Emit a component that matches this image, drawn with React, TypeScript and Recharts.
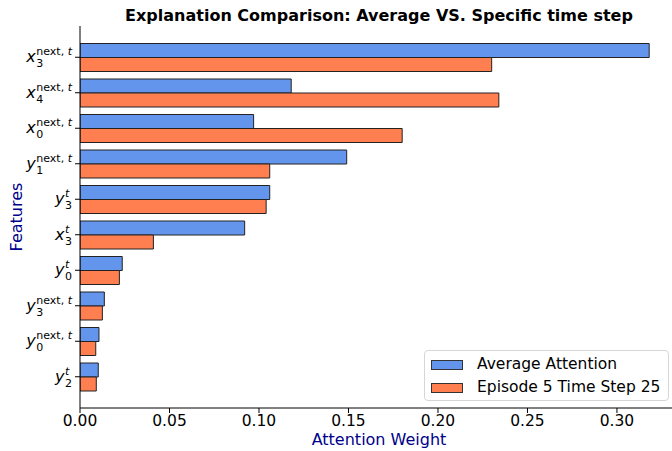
import { Bar, BarChart, XAxis, YAxis } from 'recharts';

// feature label parts: variable, subscript index, superscript
const featureVar = ['x', 'x', 'x', 'y', 'y', 'x', 'y', 'y', 'y', 'y'];
const featureSub = ['3', '4', '0', '1', '3', '3', '0', '3', '0', '2'];
const featureSup = ['next, t', 'next, t', 'next, t', 'next, t', 't', 't', 't', 'next, t', 'next, t', 't'];

const averageAttention = [0.318, 0.118, 0.097, 0.149, 0.106, 0.092, 0.0236, 0.0136, 0.0106, 0.0102];
const episodeAttention = [0.230, 0.234, 0.180, 0.106, 0.104, 0.041, 0.022, 0.0125, 0.0088, 0.0091];

const xTicks = [0, 0.05, 0.1, 0.15, 0.2, 0.25, 0.3];

const BLUE = '#6495ED';
const ORANGE = '#FF7F50';
const FONT = '"DejaVu Sans", sans-serif';

const data = featureVar.map((v, i) => ({
  feature: `${v}_${featureSub[i]}^${featureSup[i]}`,
  avg: averageAttention[i],
  episode: episodeAttention[i],
}));

let measureCtx: CanvasRenderingContext2D | null = null;
function measure(text: string, font: string) {
  if (!measureCtx) measureCtx = document.createElement('canvas').getContext('2d');
  if (!measureCtx) return text.length * 7;
  measureCtx.font = font;
  return measureCtx.measureText(text).width;
}

function FeatureTick(props: any) {
  const { x, y, payload } = props;
  const i = data.findIndex((d) => d.feature === payload.value);
  if (i < 0) return null;
  const base = featureVar[i];
  const sub = featureSub[i];
  const sup = featureSup[i];
  const supParts = sup.endsWith('t') ? [sup.slice(0, -1), 't'] : [sup, ''];
  const supW =
    measure(supParts[0], `11px ${FONT}`) + measure(supParts[1], `italic 11px ${FONT}`);
  const subW = measure(sub, `11px ${FONT}`);
  const scriptW = Math.max(supW, subW);
  const baseW = measure(base, `italic 16px ${FONT}`);
  const scriptX = x - scriptW;
  const baseX = scriptX - baseW - 0.5;
  return (
    <g fill="#000" fontFamily={FONT}>
      <text x={baseX} y={y + 5} fontSize={16} fontStyle="italic">
        {base}
      </text>
      <text x={scriptX} y={y - 2} fontSize={11}>
        {supParts[0]}
        <tspan fontStyle="italic">{supParts[1]}</tspan>
      </text>
      <text x={scriptX} y={y + 10} fontSize={11}>
        {sub}
      </text>
    </g>
  );
}

function LegendBox() {
  const items = [
    { label: 'Average Attention', color: BLUE },
    { label: 'Episode 5 Time Step 25', color: ORANGE },
  ];
  return (
    <div
      style={{
        position: 'absolute',
        left: 424,
        top: 350,
        width: 245,
        height: 51,
        boxSizing: 'border-box',
        border: '1px solid #d6d6d6',
        borderRadius: 4,
        background: 'rgba(255,255,255,0.8)',
        padding: '4px 0 0 6px',
        fontFamily: FONT,
        fontSize: 15.5,
        lineHeight: '19px',
        color: '#000',
      }}
    >
      {items.map((it) => (
        <div key={it.label} style={{ display: 'flex', alignItems: 'center', height: 19, marginBottom: 4 }}>
          <span
            style={{
              display: 'inline-block',
              width: 32,
              height: 10,
              background: it.color,
              border: '1px solid #333',
              boxSizing: 'border-box',
              marginRight: 14,
            }}
          />
          <span>{it.label}</span>
        </div>
      ))}
    </div>
  );
}

export default function App() {
  return (
    <div
      style={{
        position: 'absolute',
        left: 0,
        top: 0,
        width: 672,
        height: 451,
        overflow: 'hidden',
        background: '#fff',
      }}
    >
      <BarChart
        width={700}
        height={451}
        data={data}
        layout="vertical"
        margin={{ top: 26, right: 22, left: 0, bottom: 0 }}
        barGap={0}
        barSize={14}
      >
        <text
          x={379}
          y={21}
          textAnchor="middle"
          fontFamily={FONT}
          fontWeight="bold"
          fontSize={16}
          fill="#000"
        >
          Explanation Comparison: Average VS. Specific time step
        </text>
        <text
          x={379}
          y={445}
          textAnchor="middle"
          fontFamily={FONT}
          fontSize={16}
          fill="#00008B"
        >
          Attention Weight
        </text>
        <text
          x={22}
          y={217}
          textAnchor="middle"
          fontFamily={FONT}
          fontSize={16}
          fill="#00008B"
          transform="rotate(-90 22 217)"
        >
          Features
        </text>
        <XAxis
          type="number"
          domain={[0, 0.3341]}
          ticks={xTicks}
          tickFormatter={(v: number) => v.toFixed(2)}
          height={43}
          tickSize={5}
          tickMargin={2}
          axisLine={{ stroke: '#000' }}
          tickLine={{ stroke: '#000' }}
          tick={{ fill: '#000', fontSize: 15.5, fontFamily: FONT }}
          allowDataOverflow
        />
        <XAxis
          xAxisId="top"
          orientation="top"
          type="number"
          domain={[0, 0.3341]}
          height={0}
          tick={false}
          tickLine={false}
          axisLine={{ stroke: '#000' }}
        />
        <YAxis
          type="category"
          dataKey="feature"
          width={80}
          padding={{ top: 13.5, bottom: 13.5 }}
          tickSize={5}
          tickMargin={3}
          interval={0}
          axisLine={{ stroke: '#000' }}
          tickLine={{ stroke: '#000' }}
          tick={<FeatureTick />}
        />
        <Bar
          dataKey="avg"
          name="Average Attention"
          fill={BLUE}
          stroke="#222"
          strokeWidth={1}
          isAnimationActive={false}
        />
        <Bar
          dataKey="episode"
          name="Episode 5 Time Step 25"
          fill={ORANGE}
          stroke="#222"
          strokeWidth={1}
          isAnimationActive={false}
        />
      </BarChart>
      <LegendBox />
    </div>
  );
}
